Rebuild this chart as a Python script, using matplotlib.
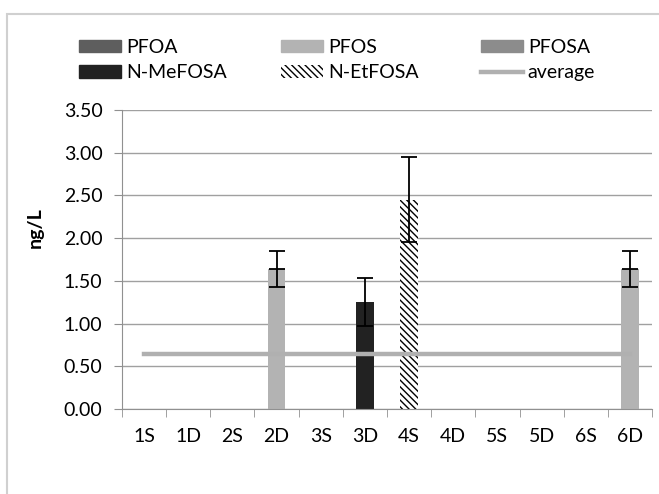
import matplotlib
matplotlib.use("Agg")
import matplotlib.pyplot as plt
import numpy as np
from matplotlib.patches import Patch, Rectangle
from matplotlib.lines import Line2D

# données
sites = ['1S', '1D', '2S', '2D', '3S', '3D', '4S', '4D', '5S', '5D', '6S', '6D']
pfoa = [0, 0, 0, 0, 0, 0, 0, 0, 0, 0, 0, 0]
pfos = [0, 0, 0, 1.64, 0, 0, 0, 0, 0, 0, 0, 1.64]
pfos_err = [0, 0, 0, 0.21, 0, 0, 0, 0, 0, 0, 0, 0.21]
pfosa = [0, 0, 0, 0, 0, 0, 0, 0, 0, 0, 0, 0]
n_mefosa = [0, 0, 0, 0, 0, 1.25, 0, 0, 0, 0, 0, 0]
n_mefosa_err = [0, 0, 0, 0, 0, 0.28, 0, 0, 0, 0, 0, 0]
n_etfosa = [0, 0, 0, 0, 0, 0, 2.45, 0, 0, 0, 0, 0]
n_etfosa_err = [0, 0, 0, 0, 0, 0, 0.50, 0, 0, 0, 0, 0]
average = 0.64

plt.rcParams['font.family'] = ['Lato', 'DejaVu Sans']
plt.rcParams['hatch.linewidth'] = 1.0
fs = 14

W, H = 659, 494
fig = plt.figure(figsize=(W / 100, H / 100), dpi=100)
ax = fig.add_axes([122 / W, 1 - 409 / H, 530 / W, 299 / H])

x = np.arange(len(sites))
w = 0.40
c_pfoa, c_pfos, c_pfosa, c_me = '#5e5e5e', '#b3b3b3', '#8c8c8c', '#222222'
hatch = '\\\\\\\\\\'

ax.bar(x, pfoa, w, color=c_pfoa)
ax.bar(x, pfos, w, color=c_pfos)
ax.bar(x, pfosa, w, color=c_pfosa)
ax.bar(x, n_mefosa, w, color=c_me)
ax.bar(x, n_etfosa, w, color='white', edgecolor='black', linewidth=0, hatch=hatch)

# barres d'erreur (seulement là où il y a une valeur)
for vals, errs, mid in [(pfos, pfos_err, True), (n_mefosa, n_mefosa_err, False),
                        (n_etfosa, n_etfosa_err, False)]:
    v = np.array(vals, dtype=float)
    e = np.array(errs, dtype=float)
    m = v > 0
    ax.errorbar(x[m], v[m], yerr=e[m], fmt='_' if mid else 'none', color='black',
                markersize=11, markeredgewidth=1.3, elinewidth=1.3, capsize=5.5, capthick=1.3)

ax.plot([x[0], x[-1]], [average, average], color='#b0b0b0', linewidth=3.2, zorder=4)

ax.set_xlim(-0.5, len(sites) - 0.5)
ax.set_ylim(0, 3.5)
ax.set_yticks(np.arange(0, 3.51, 0.5))
ax.set_yticklabels(['%.2f' % t for t in np.arange(0, 3.51, 0.5)])
ax.set_xticks(x)
ax.set_xticklabels(sites)
ax.set_xticks(np.arange(-0.5, len(sites)), minor=True)
ax.tick_params(axis='x', which='major', length=0, pad=14, labelsize=fs)
ax.tick_params(axis='x', which='minor', length=6, color='#909090', direction='out')
ax.tick_params(axis='y', length=6, color='#909090', pad=8, labelsize=fs)
ax.grid(axis='y', color='#a0a0a0', linewidth=1)
ax.set_axisbelow(True)
for s in ['top', 'right']:
    ax.spines[s].set_visible(False)
ax.spines['left'].set_color('#909090')
ax.spines['bottom'].set_color('#909090')

fig.text(35 / W, 1 - 228 / H, 'ng/L', rotation=90, fontsize=fs, fontweight='bold',
         ha='center', va='center')

# légende : trois colonnes de même largeur, comme dans Excel
columns = [
    ([Patch(color=c_pfoa), Patch(color=c_me)], ['PFOA', 'N-MeFOSA'], 79),
    ([Patch(color=c_pfos), Patch(facecolor='white', edgecolor='black', linewidth=0, hatch=hatch)],
     ['PFOS', 'N-EtFOSA'], 281),
    ([Patch(color=c_pfosa), Line2D([], [], color='#b0b0b0', linewidth=3.2)], ['PFOSA', 'average'], 481),
]
for hs, ls, x0 in columns:
    leg = fig.legend(hs, ls, loc='center left', bbox_to_anchor=(x0 / W, 1 - 60 / H),
                     frameon=False, fontsize=fs, handlelength=42 / (fs * 100 / 72), handleheight=0.6,
                     handletextpad=0.25, labelspacing=0.45, borderpad=0, borderaxespad=0)

fig.patches.append(Rectangle((7 / W, -0.1), 1.1, 1 - 14 / H + 0.1, transform=fig.transFigure,
                             fill=False, edgecolor='#d0d0d0', linewidth=1.5))

fig.savefig('out.png', dpi=100)
